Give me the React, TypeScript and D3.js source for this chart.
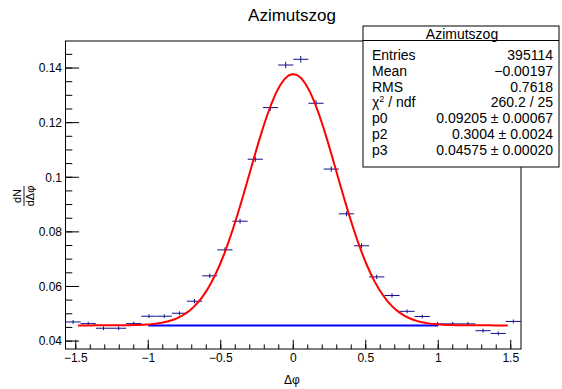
import React from "react";
import * as d3 from "d3";

const title = "Azimutszog";
const binCenters = [-1.518, -1.414, -1.309, -1.204, -1.1, -0.995, -0.89, -0.785, -0.681, -0.576, -0.471, -0.367, -0.262, -0.157, -0.052, 0.052, 0.157, 0.262, 0.367, 0.471, 0.576, 0.681, 0.785, 0.89, 0.995, 1.1, 1.204, 1.309, 1.414, 1.518];
const binWidth = 0.1047;
const values = [0.047, 0.0464, 0.0447, 0.0447, 0.0464, 0.0491, 0.0491, 0.0502, 0.0546, 0.0639, 0.0734, 0.0839, 0.1066, 0.1255, 0.1411, 0.1432, 0.1271, 0.103, 0.0866, 0.0749, 0.0635, 0.0567, 0.0509, 0.049, 0.0463, 0.0463, 0.0463, 0.0438, 0.0428, 0.0472];
const errors = [0.0007, 0.0007, 0.0007, 0.0007, 0.0007, 0.0007, 0.0007, 0.0007, 0.0008, 0.0008, 0.0009, 0.0009, 0.001, 0.0011, 0.0012, 0.0012, 0.0011, 0.001, 0.0009, 0.0009, 0.0008, 0.0008, 0.0007, 0.0007, 0.0007, 0.0007, 0.0007, 0.0007, 0.0007, 0.0007];
const fitParams = { p0: 0.09205, p2: 0.3004, p3: 0.04575 };
const fitRange = [-1.485, 1.48];
const bgRange = [-1, 1];
const xTicks = [-1.5, -1, -0.5, 0, 0.5, 1, 1.5];
const xTickLabels = ["\u22121.5", "\u22121", "\u22120.5", "0", "0.5", "1", "1.5"];
const yTicks = [0.04, 0.06, 0.08, 0.1, 0.12, 0.14];
const yTickLabels = ["0.04", "0.06", "0.08", "0.1", "0.12", "0.14"];
const statsLabels = ["Entries", "Mean", "RMS", "chi", "p0", "p2", "p3"];
const statsValues = ["395114", "\u22120.00197", "0.7618", "260.2 / 25", "0.09205 \u00b1 0.00067", "0.3004 \u00b1 0.0024", "0.04575 \u00b1 0.00020"];

const W = 562, H = 389;
const L = 65.5, R = 521, T = 41, B = 349;
const font = "'Liberation Sans', Arial, Helvetica, sans-serif";

export default function App() {
  const x = d3.scaleLinear().domain([-Math.PI / 2, Math.PI / 2]).range([L, R]);
  const y = d3.scaleLinear().domain([0.0371, 0.1499]).range([B, T]);
  const fit = (v: number) => fitParams.p0 * Math.exp(-0.5 * (v / fitParams.p2) ** 2) + fitParams.p3;
  const fitPts = d3.range(0, 101).map(i => fitRange[0] + (i / 100) * (fitRange[1] - fitRange[0]));
  const line = d3.line<number>().x(d => x(d)).y(d => y(fit(d)));
  const xMinor = d3.range(-15, 16).map(i => i / 10);
  const yMinor = d3.range(8, 30).map(i => i * 0.005).filter(v => v >= 0.0371 && v <= 0.1499);
  const navy = "#10108a";
  return (
    <svg width={W} height={H} style={{ position: "fixed", left: 0, top: 0, background: "#fff" }} fontFamily={font}>
      <rect x={0} y={0} width={W} height={H} fill="#fff" />
      <text x={292} y={21} fontSize={17} textAnchor="middle">{title}</text>
      <rect x={L} y={T} width={R - L} height={B - T} fill="none" stroke="#000" strokeWidth={1} />
      {xMinor.map((v, i) => (
        <line key={"xm" + i} x1={x(v)} x2={x(v)} y1={B} y2={B - 4.6} stroke="#000" />
      ))}
      {xTicks.map((v, i) => (
        <g key={"xt" + i}>
          <line x1={x(v)} x2={x(v)} y1={B} y2={B - 9.2} stroke="#000" />
          <text x={x(v)} y={362} fontSize={12} textAnchor="middle">{xTickLabels[i]}</text>
        </g>
      ))}
      {yMinor.map((v, i) => (
        <line key={"ym" + i} x1={L} x2={L + 6.8} y1={y(v)} y2={y(v)} stroke="#000" />
      ))}
      {yTicks.map((v, i) => (
        <g key={"yt" + i}>
          <line x1={L} x2={L + 13.6} y1={y(v)} y2={y(v)} stroke="#000" />
          <text x={62} y={y(v) + 4.3} fontSize={12} textAnchor="end">{yTickLabels[i]}</text>
        </g>
      ))}
      <text x={292} y={384} fontSize={12} textAnchor="middle">Δφ</text>
      <g transform="translate(24,196) rotate(-90)">
        <text x={0} y={-3} fontSize={11} textAnchor="middle">dN</text>
        <line x1={-10} x2={10} y1={0} y2={0} stroke="#000" strokeWidth={0.9} />
        <text x={0} y={10} fontSize={11} textAnchor="middle">dΔφ</text>
      </g>
      {values.map((v, i) => (
        <g key={"p" + i} stroke={navy} strokeWidth={1}>
          <line x1={x(binCenters[i] - binWidth / 2)} x2={x(binCenters[i] + binWidth / 2)} y1={y(v)} y2={y(v)} />
          <line x1={x(binCenters[i])} x2={x(binCenters[i])} y1={y(v - errors[i])} y2={y(v + errors[i])} />
        </g>
      ))}
      <line x1={x(bgRange[0])} x2={x(bgRange[1])} y1={y(fitParams.p3)} y2={y(fitParams.p3)} stroke="#0000ff" strokeWidth={2} />
      <path d={line(fitPts) || ""} fill="none" stroke="#ff0000" strokeWidth={2} />
      <rect x={363} y={26} width={196} height={141} fill="#fff" stroke="#000" strokeWidth={1} />
      <line x1={363} x2={559} y1={40.5} y2={40.5} stroke="#000" />
      <text x={462} y={38.5} fontSize={14} textAnchor="middle">{title}</text>
      {statsLabels.map((s, i) => (
        <g key={"s" + i}>
          <text x={372} y={60 + i * 15.8} fontSize={14}>
            {s === "chi" ? (<><tspan>χ</tspan><tspan fontSize={9} dy={-5}>2</tspan><tspan dy={5}> / ndf</tspan></>) : s}
          </text>
          <text x={553} y={60 + i * 15.8} fontSize={14} textAnchor="end">{statsValues[i]}</text>
        </g>
      ))}
    </svg>
  );
}
